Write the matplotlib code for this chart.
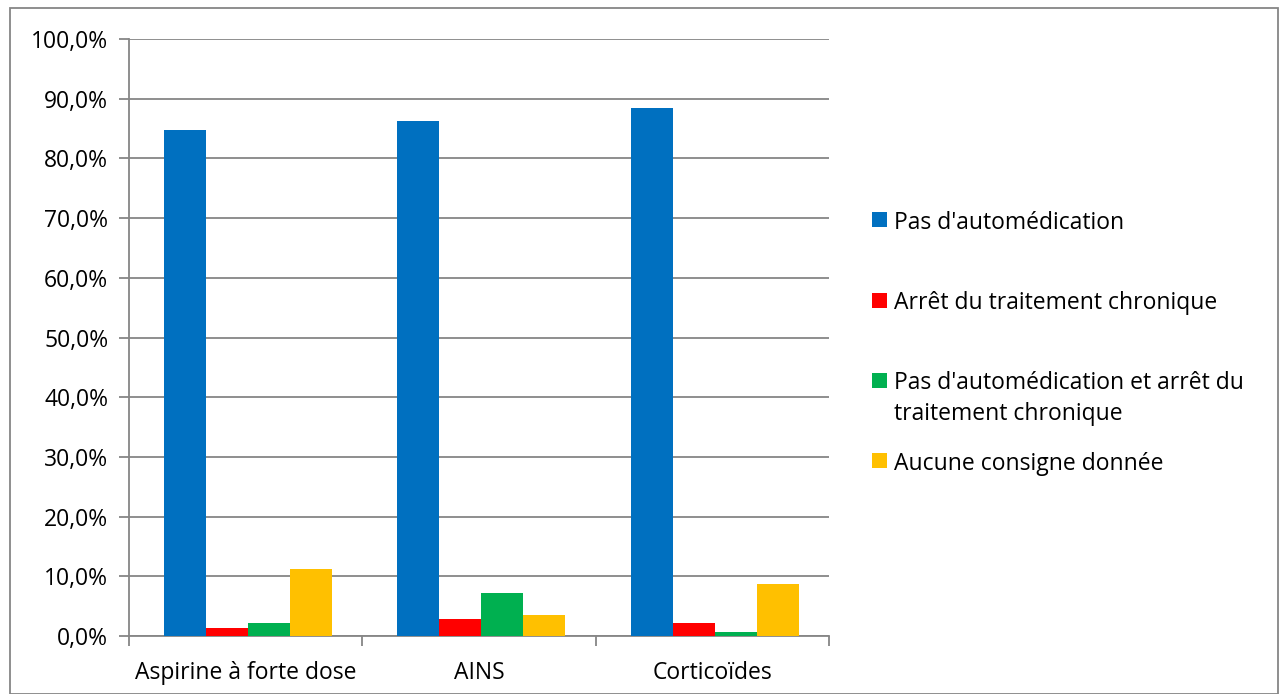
import matplotlib
matplotlib.use("Agg")
import matplotlib.pyplot as plt
import numpy as np
from matplotlib.patches import Rectangle
from matplotlib.ticker import FuncFormatter, MultipleLocator

categories = ["Aspirine à forte dose", "AINS", "Corticoïdes"]
series_names = ["Pas d'automédication", "Arrêt du traitement chronique",
                "Pas d'automédication et arrêt du\ntraitement chronique",
                "Aucune consigne donnée"]
pas_auto = [84.8, 86.3, 88.4]
arret = [1.4, 2.9, 2.2]
pas_auto_arret = [2.1, 7.2, 0.7]
aucune = [11.2, 3.5, 8.7]
colors = ["#0070C0", "#FF0000", "#00B050", "#FFC000"]

plt.rcParams['font.family'] = ['Open Sans', 'DejaVu Sans']
FS = 16.5

fig = plt.figure(figsize=(12.79, 6.94), dpi=100)
W, H = 1279, 694
ax = fig.add_axes([129 / W, 1 - 636 / H, 700 / W, 597 / H])

x = np.arange(len(categories))
bw = 0.18
data = [pas_auto, arret, pas_auto_arret, aucune]
for i, (vals, c, name) in enumerate(zip(data, colors, series_names)):
    ax.bar(x + (i - 1.5) * bw + 0.01, vals, width=bw, color=c, label=name, zorder=3)

ax.set_xlim(-0.5, 2.5)
ax.set_ylim(0, 100)
ax.yaxis.set_major_locator(MultipleLocator(10))
ax.yaxis.set_major_formatter(FuncFormatter(lambda v, p: f"{v:.1f}%".replace(".", ",")))
ax.grid(axis='y', color='#868686', linewidth=1.3, zorder=0)
ax.set_axisbelow(True)

ax.set_xticks(x)
ax.set_xticklabels(categories)
ax.set_xticks([-0.5, 0.5, 1.5, 2.5], minor=True)
ax.tick_params(axis='x', which='major', length=0, pad=18, labelsize=FS)
ax.tick_params(axis='x', which='minor', length=7, width=1.3, color='#868686', direction='out')
ax.tick_params(axis='y', length=7, width=1.3, color='#868686', labelsize=FS, pad=8)

for s in ['top', 'right']:
    ax.spines[s].set_visible(False)
for s in ['left', 'bottom']:
    ax.spines[s].set_color('#868686')
    ax.spines[s].set_linewidth(1.3)

# legend drawn manually to mimic Excel layout
legend_y = [219.5, 300, 380, 460.5]
line_gap = 31
for name, c, yy in zip(series_names, colors, legend_y):
    fig.patches.append(Rectangle((872 / W, 1 - (yy + 7.5) / H), 15 / W, 15 / H,
                                 transform=fig.transFigure, facecolor=c, edgecolor='none'))
    for k, line in enumerate(name.split("\n")):
        fig.text(894 / W, 1 - (yy + k * line_gap) / H, line, fontsize=FS,
                 va='center_baseline', ha='left', color='black')

fig.patches.append(Rectangle((10 / W, 0), 1268 / W, 1 - 8 / H, transform=fig.transFigure,
                             fill=False, edgecolor='#868686', linewidth=1.3))

fig.savefig("out.png", dpi=100)
